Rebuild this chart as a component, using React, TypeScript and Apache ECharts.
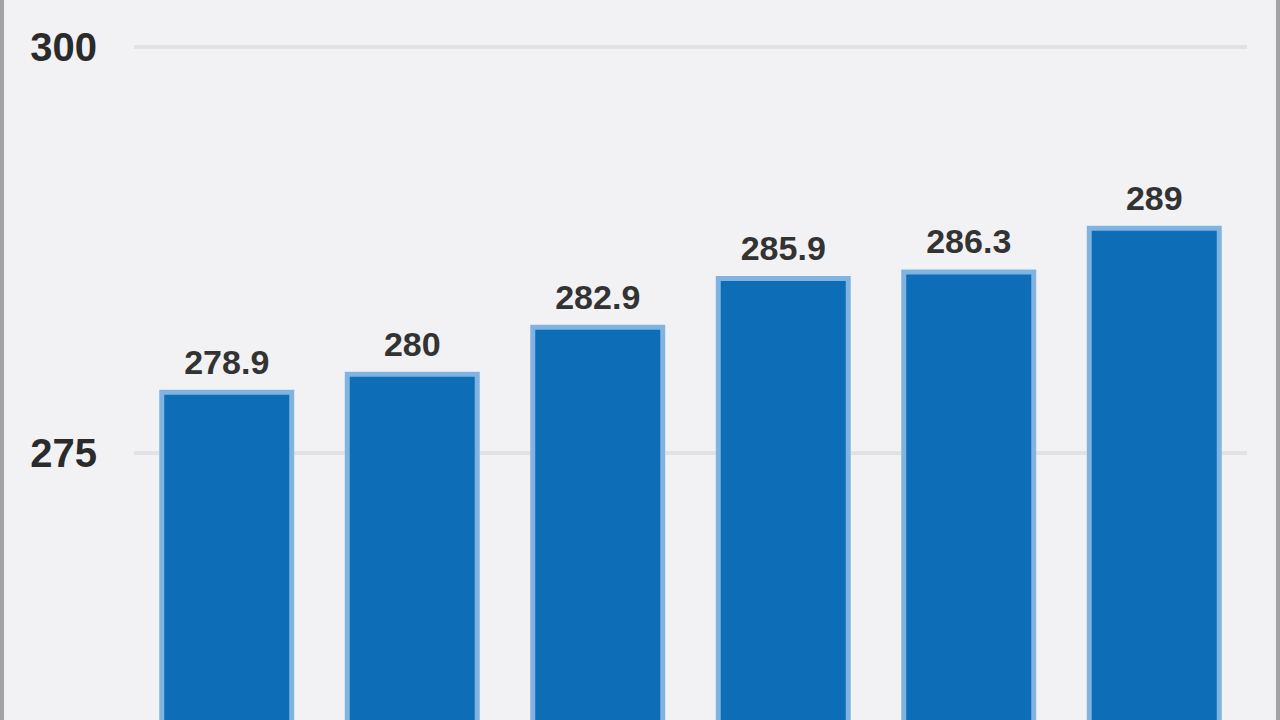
import React, { useEffect, useRef } from "react";
import * as echarts from "echarts";

const categories = ["1", "2", "3", "4", "5", "6"];
const values = [278.9, 280, 282.9, 285.9, 286.3, 289];
const yMin = 250;
const yMax = 300;
const yInterval = 25;

export default function App() {
  const ref = useRef<HTMLDivElement>(null);
  useEffect(() => {
    if (!ref.current) return;
    const chart = echarts.init(ref.current, null, { renderer: "svg" });
    chart.setOption({
      animation: false,
      backgroundColor: "#f2f2f4",
      grid: { left: 134, top: 47, width: 1113, height: 812 },
      xAxis: {
        type: "category",
        data: categories,
        axisLine: { show: false },
        axisTick: { show: false },
        axisLabel: { show: false },
      },
      yAxis: {
        type: "value",
        min: yMin,
        max: yMax,
        interval: yInterval,
        axisLine: { show: false },
        axisTick: { show: false },
        axisLabel: {
          showMinLabel: false,
          margin: 37,
          fontSize: 40,
          fontWeight: "bold",
          fontFamily: "Liberation Sans, Arial, sans-serif",
          color: "#2b2b2b",
        },
        splitLine: { lineStyle: { color: "#e2e2e5", width: 4 } },
      },
      series: [
        {
          type: "bar",
          data: values,
          barWidth: 135,
          silent: true,
          itemStyle: { color: "#fbfbfd", borderColor: "#fbfbfd", borderWidth: 12 },
          z: 1,
        },
        {
          type: "bar",
          data: values,
          barWidth: 135,
          barGap: "-100%",
          itemStyle: { color: "#0d6db7", borderColor: "#80b3e0", borderWidth: 5 },
          z: 2,
          label: {
            show: true,
            position: "top",
            distance: 11,
            fontSize: 34,
            fontWeight: "bold",
            fontFamily: "Liberation Sans, Arial, sans-serif",
            color: "#333333",
          },
        },
      ],
      graphic: [
        { type: "rect", left: 0, top: 0, shape: { width: 4, height: 720 }, style: { fill: "#a3a3a5" } },
        { type: "rect", left: 1276, top: 0, shape: { width: 4, height: 720 }, style: { fill: "#a3a3a5" } },
      ],
    });
    return () => chart.dispose();
  }, []);
  return (
    <div style={{ position: "fixed", left: 0, top: 0, width: 1280, height: 720, overflow: "hidden" }}>
      <div ref={ref} style={{ width: 1280, height: 900 }} />
    </div>
  );
}
